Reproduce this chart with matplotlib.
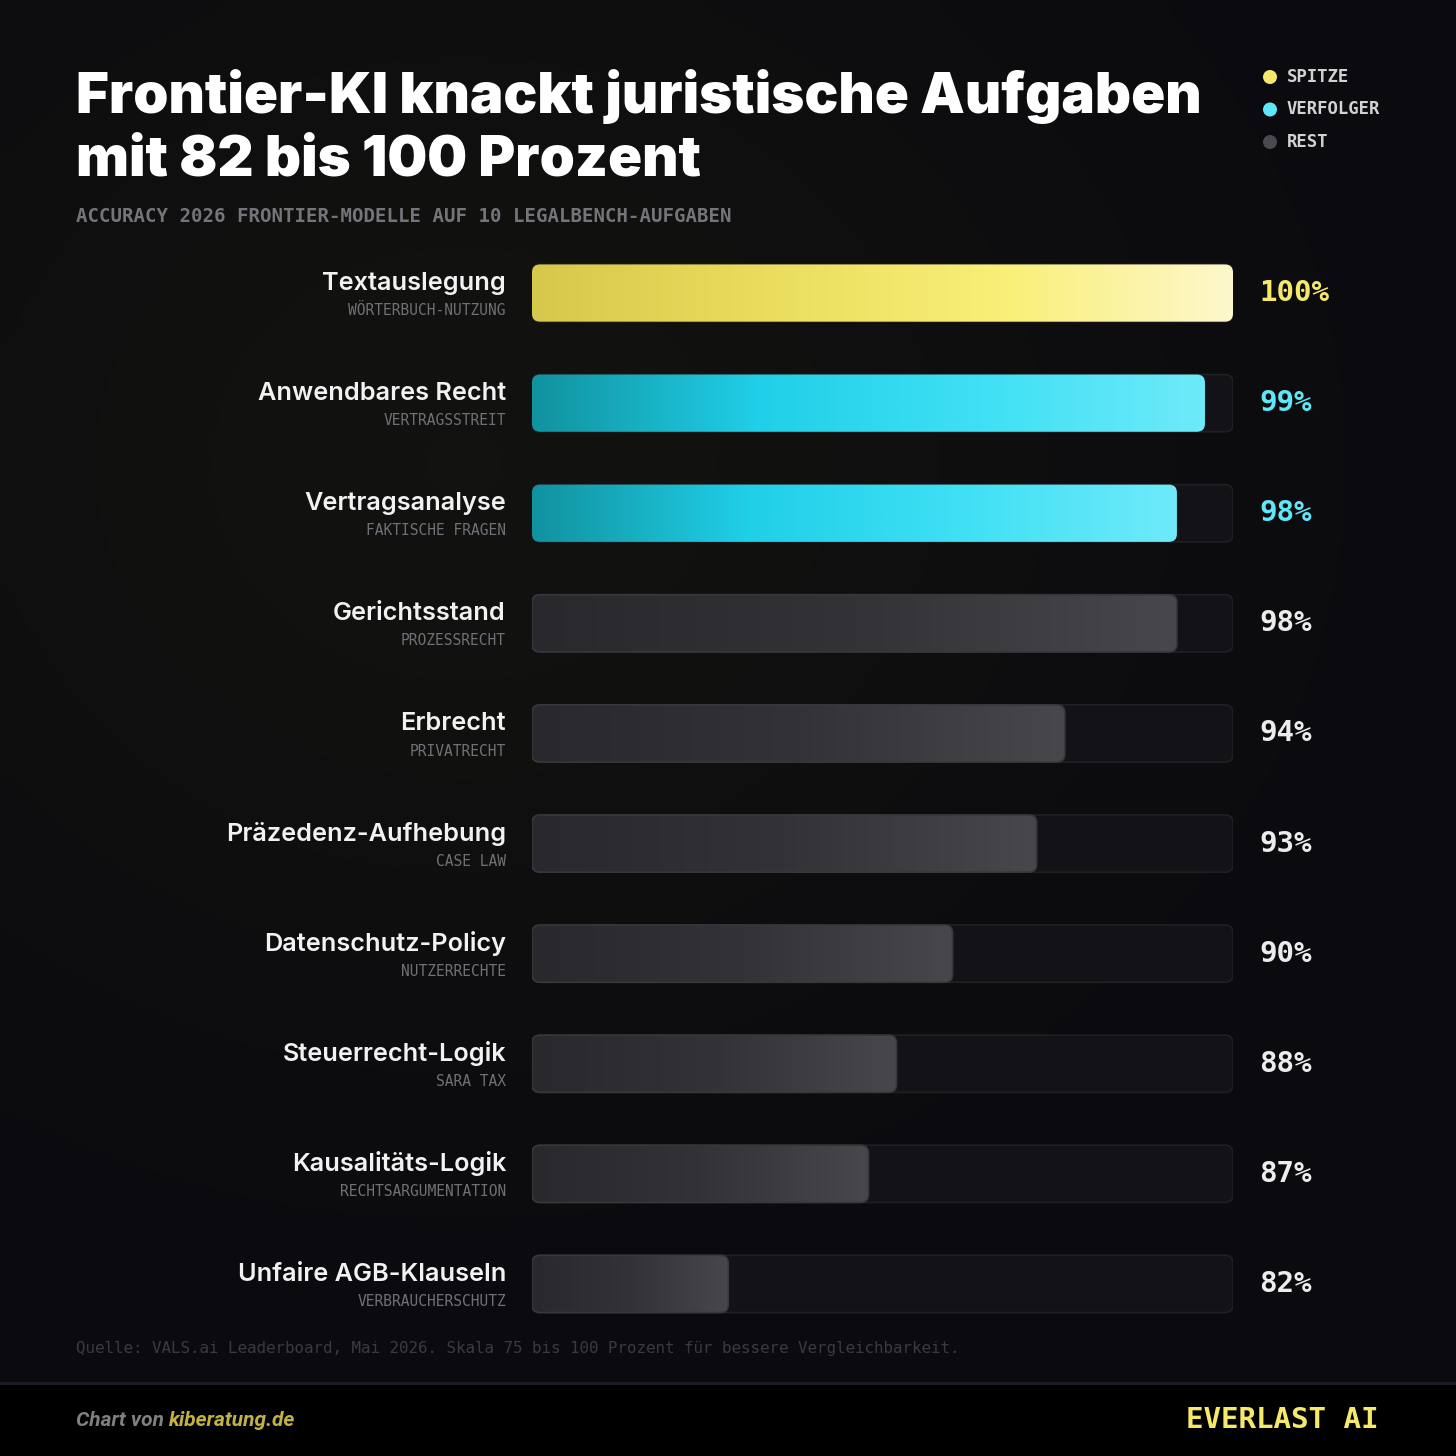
import numpy as np
import matplotlib.pyplot as plt
from matplotlib.patches import FancyBboxPatch, Rectangle, Circle
from matplotlib.colors import LinearSegmentedColormap
from matplotlib.transforms import blended_transform_factory

tasks = ["Textauslegung", "Anwendbares Recht", "Vertragsanalyse", "Gerichtsstand",
         "Erbrecht", "Präzedenz-Aufhebung", "Datenschutz-Policy", "Steuerrecht-Logik",
         "Kausalitäts-Logik", "Unfaire AGB-Klauseln"]
areas = ["WÖRTERBUCH-NUTZUNG", "VERTRAGSSTREIT", "FAKTISCHE FRAGEN", "PROZESSRECHT",
         "PRIVATRECHT", "CASE LAW", "NUTZERRECHTE", "SARA TAX",
         "RECHTSARGUMENTATION", "VERBRAUCHERSCHUTZ"]
accuracy = [100, 99, 98, 98, 94, 93, 90, 88, 87, 82]
groups = ["spitze", "verfolger", "verfolger", "rest", "rest",
          "rest", "rest", "rest", "rest", "rest"]
scale_min, scale_max = 75, 100

BG = "#0b0b0f"
MONO = "DejaVu Sans Mono"
SANS = "Inter"

cmaps = {
    "spitze": LinearSegmentedColormap.from_list("y", ["#d6c84a", "#eadd5e", "#f9ef76", "#fdf8cc"]),
    "verfolger": LinearSegmentedColormap.from_list("c", ["#11929f", "#20cfe8", "#3fe0f4", "#6eeafa"]),
    "rest": LinearSegmentedColormap.from_list("g", ["#29292d", "#333337", "#48484c"]),
}
value_colors = {"spitze": "#f6e96a", "verfolger": "#5fe6f8", "rest": "#ececec"}

W = H = 1456
fig = plt.figure(figsize=(W / 100, H / 100), dpi=100, facecolor=BG)

# background / annotation layer in pixel coordinates
bg = fig.add_axes([0, 0, 1, 1])
bg.axis("off")
yy, xx = np.mgrid[0:80, 0:80]
glow = np.exp(-(((xx - 25) / 35) ** 2 + ((yy - 25) / 30) ** 2))
bg.imshow(glow, extent=[0, W, H, 0], cmap=LinearSegmentedColormap.from_list("bg", [BG, "#121210"]),
          aspect="auto", zorder=0, interpolation="bicubic")
bg.set_xlim(0, W)
bg.set_ylim(H, 0)

# footer band
bg.add_patch(Rectangle((0, 1383), W, 73, facecolor="#000000", edgecolor="none", zorder=1))
bg.plot([0, W], [1383, 1383], color="#1b1b24", lw=2, zorder=2)

bg.text(76, 96, "Frontier-KI knackt juristische Aufgaben", fontfamily=SANS, fontweight="black",
        fontsize=40.5, color="white", va="center", ha="left", zorder=3)
bg.text(76, 161, "mit 82 bis 100 Prozent", fontfamily=SANS, fontweight="black",
        fontsize=40.5, color="white", va="center", ha="left", zorder=3)
bg.text(76, 217, "ACCURACY 2026 FRONTIER-MODELLE AUF 10 LEGALBENCH-AUFGABEN", fontfamily=MONO,
        fontweight="bold", fontsize=13.7, color="#74747a", va="center", ha="left", zorder=3)

legend = [("SPITZE", "#f6e96a"), ("VERFOLGER", "#5fe6f8"), ("REST", "#4a4a4e")]
for i, (name, col) in enumerate(legend):
    y = 77 + i * 32.5
    bg.add_patch(Circle((1270, y), 7, facecolor=col, edgecolor="none", zorder=3))
    bg.text(1287, y, name, fontfamily=MONO, fontweight="bold", fontsize=12.4,
            color="#d2d2d2", va="center", ha="left", zorder=3)

bg.text(76, 1348, "Quelle: VALS.ai Leaderboard, Mai 2026. Skala 75 bis 100 Prozent für bessere Vergleichbarkeit.",
        fontfamily=MONO, fontsize=11.4, color="#3a3a41", va="center", ha="left", zorder=3)

t = bg.text(76, 1421, "Chart von ", fontfamily="Roboto", fontstyle="italic", fontweight="bold",
            fontsize=15, color="#808080", va="center", ha="left", zorder=3)
fig.canvas.draw()
ext = t.get_window_extent()
x_end = bg.transData.inverted().transform((ext.x1, ext.y0))[0]
bg.text(x_end, 1421, "kiberatung.de", fontfamily="Roboto", fontstyle="italic", fontweight="bold",
        fontsize=15, color="#c2b243", va="center", ha="left", zorder=3)
bg.text(1378, 1420, "EVERLAST AI", fontfamily=MONO, fontweight="bold", fontsize=21,
        color="#f6e96a", va="center", ha="right", zorder=3)

# bar chart axes: x from 532 to 1233 px, rows centred at 293..1284 px
ax_left, ax_right = 532 / W, 1233 / W
ax_top, ax_bottom = 238 / H, 1339 / H
ax = fig.add_axes([ax_left, 1 - ax_bottom, ax_right - ax_left, ax_bottom - ax_top])
ax.set_facecolor("none")
ax.axis("off")
n = len(tasks)

bar_h = 0.52
px_x = (scale_max - scale_min) / 701.0
px_y = n / 1101.0
aspect = px_y / px_x
radius = 8 * px_x
trans = blended_transform_factory(ax.transAxes, ax.transData)

for i, (task, area, val, grp) in enumerate(zip(tasks, areas, accuracy, groups)):
    # track
    track = FancyBboxPatch((scale_min, i - bar_h / 2), scale_max - scale_min, bar_h,
                           boxstyle=f"round,pad=0,rounding_size={radius}", mutation_aspect=aspect,
                           facecolor="#131317", edgecolor="#1f1f25", lw=1.2, zorder=1)
    ax.add_patch(track)
    # value bar with gradient
    bar = FancyBboxPatch((scale_min, i - bar_h / 2), val - scale_min, bar_h,
                         boxstyle=f"round,pad=0,rounding_size={radius}", mutation_aspect=aspect,
                         facecolor="none", edgecolor="#38383c" if grp == "rest" else "none",
                         lw=1.2, zorder=3)
    ax.add_patch(bar)
    grad = np.linspace(0, 1, 512).reshape(1, -1)
    im = ax.imshow(grad, extent=[scale_min, val, i + bar_h / 2, i - bar_h / 2],
                   cmap=cmaps[grp], aspect="auto", zorder=2, interpolation="bilinear")
    im.set_clip_path(bar)

    ax.text(-26 / 701, i - 0.09, task, transform=trans, fontfamily=SANS, fontweight="semibold",
            fontsize=18.2, color="#f2f2f2", ha="right", va="center", zorder=4)
    ax.text(-26 / 701, i + 0.16, area, transform=trans, fontfamily=MONO,
            fontsize=10.5, color="#707076", ha="right", va="center", zorder=4)
    ax.text(1 + 26 / 701, i, f"{val}%", transform=trans, fontfamily=MONO, fontweight="bold",
            fontsize=21, color=value_colors[grp], ha="left", va="center", zorder=4)

ax.set_xlim(scale_min, scale_max)
ax.set_ylim(n - 0.5, -0.5)

fig.savefig("out.png", dpi=100, facecolor=BG)
